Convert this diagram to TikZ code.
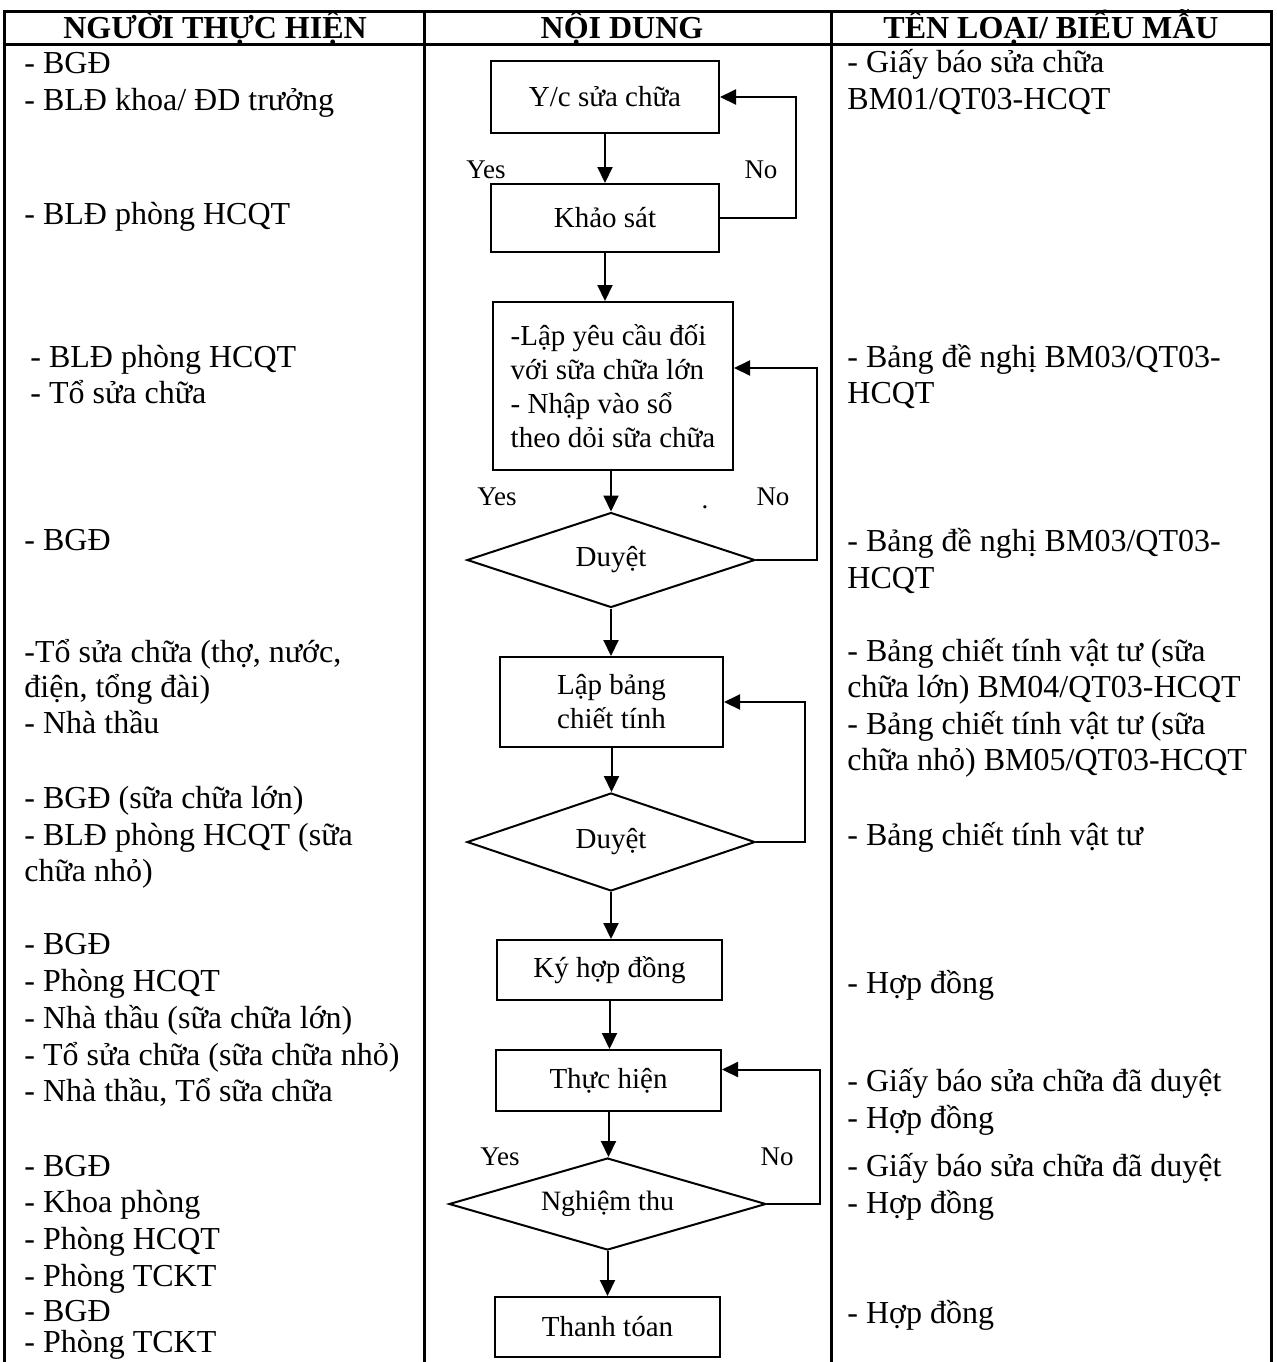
\documentclass[tikz,border=0pt]{standalone}
\usepackage{fontspec}
\setmainfont{Liberation Serif}
\usetikzlibrary{shapes.geometric,arrows.meta}

\begin{document}
\begin{tikzpicture}[x=0.5pt,y=-0.5pt,
	box/.style={draw,line width=1pt,inner sep=0pt,font=\fontsize{14.5}{17}\selectfont},
	dec/.style={draw,diamond,aspect=3,line width=1pt,inner sep=0pt,font=\fontsize{14.5}{17}\selectfont},
	arr/.style={line width=1pt,-{Triangle[length=8pt,width=7.5pt]}},
	lbl/.style={anchor=base west,inner sep=0pt,font=\fontsize{16}{18.3}\selectfont},
	hd/.style={anchor=base,inner sep=0pt,font=\fontsize{16}{18.3}\selectfont\bfseries},
	yn/.style={inner sep=0pt,font=\fontsize{13.5}{16}\selectfont}]
	\useasboundingbox (0,0) rectangle (1277,1362);
	
	\draw[line width=1.5pt] (4,1362)--(4,11)--(1271,11)--(1271,1362);
	\draw[line width=1.5pt] (4,44)--(1271,44);
	\draw[line width=1.5pt] (424,11)--(424,1362);
	\draw[line width=1.5pt] (831,11)--(831,1362);
	
	\node[hd] (h1) at (215,38) {NGƯỜI THỰC HIỆN};
	\node[hd] (h2) at (622,38) {NỘI DUNG};
	\node[hd] (h3) at (1051,38) {TÊN LOẠI/ BIỂU MẪU};
	
	% flow
	\node[box,minimum width=114pt,minimum height=36pt] (yc) at (605,97) {Y/c sửa chữa};
	\node[box,minimum width=114pt,minimum height=34pt] (ks) at (605,218) {Khảo sát};
	\node[box,minimum width=120pt,minimum height=84pt,align=left] (lap) at (613,386) {-Lập yêu cầu đối\\với sữa chữa lớn\\- Nhập vào sổ\\theo dỏi sữa chữa};
	\node[dec,minimum width=144pt,minimum height=47.5pt] (d1) at (611,560) {Duyệt};
	\node[box,minimum width=111.5pt,minimum height=45pt,align=center] (lb) at (611.5,702) {Lập bảng\\chiết tính};
	\node[dec,minimum width=144pt,minimum height=49pt] (d2) at (611,842) {Duyệt};
	\node[box,minimum width=112.5pt,minimum height=30pt] (ky) at (609.5,970) {Ký hợp đồng};
	\node[box,minimum width=112.5pt,minimum height=30.5pt] (th) at (608.5,1080.5) {Thực hiện};
	\node[dec,minimum width=158.5pt,minimum height=46pt,font=\fontsize{14}{16}\selectfont] (nt) at (607.5,1204) {Nghiệm thu};
	\node[box,minimum width=112.5pt,minimum height=30pt] (tt) at (607.5,1327) {Thanh tóan};
	
	\draw[arr] (yc.south)--(yc.south |- ks.north);
	\draw[arr] (ks.south)--(ks.south |- lap.north);
	\draw[arr] (d1.north |- lap.south)--(d1.north);
	\draw[arr] (d1.south)--(d1.south |- lb.north);
	\draw[arr] (lb.south)--(lb.south |- d2.north);
	\draw[arr] (d2.south)--(d2.south |- ky.north);
	\draw[arr] (ky.south)--(ky.south |- th.north);
	\draw[arr] (th.south)--(th.south |- nt.north);
	\draw[arr] (nt.south)--(nt.south |- tt.north);
	
	\draw[arr] (ks.east)--++(76,0) |- (yc.east);
	\draw[arr] (d1.east)--++(61,0) |- ([yshift=9pt]lap.east);
	\draw[arr] (d2.east)--++(49,0) |- (lb.east);
	\draw[arr] (nt.east)--++(53,0) |- ([yshift=5.5pt]th.east);
	
	\node[yn] (y1) at (486,170) {Yes};
	\node[yn] (n1) at (761,170) {No};
	\node[yn] (y2) at (497,497) {Yes};
	\node[yn] (n2) at (773,497) {No};
	\node[yn] (dot) at (705,507) {.};
	\node[yn] (y3) at (500,1157) {Yes};
	\node[yn] (n3) at (777,1157) {No};
	
	% nguoi thuc hien
	\node[lbl] (p1) at (24,73) {- BGĐ};
	\node[lbl] (p2) at (24,110) {- BLĐ khoa/ ĐD trưởng};
	\node[lbl] (p3) at (24,224) {- BLĐ phòng HCQT};
	\node[lbl] (p4) at (30,367) {- BLĐ phòng HCQT};
	\node[lbl] (p5) at (30,403) {- Tổ sửa chữa};
	\node[lbl] (p6) at (24,550) {- BGĐ};
	\node[lbl] (p7) at (24,662) {-Tổ sửa chữa (thợ, nước,};
	\node[lbl] (p8) at (24,697) {điện, tổng đài)};
	\node[lbl] (p9) at (24,733) {- Nhà thầu};
	\node[lbl] (p10) at (24,808) {- BGĐ (sữa chữa lớn)};
	\node[lbl] (p11) at (24,845) {- BLĐ phòng HCQT (sữa};
	\node[lbl] (p12) at (24,881) {chữa nhỏ)};
	\node[lbl] (p13) at (24,954) {- BGĐ};
	\node[lbl] (p14) at (24,991) {- Phòng HCQT};
	\node[lbl] (p15) at (24,1028) {- Nhà thầu (sữa chữa lớn)};
	\node[lbl] (p16) at (24,1065) {- Tổ sửa chữa (sữa chữa nhỏ)};
	\node[lbl] (p17) at (24,1101) {- Nhà thầu, Tổ sữa chữa};
	\node[lbl] (p18) at (24,1176) {- BGĐ};
	\node[lbl] (p19) at (24,1212) {- Khoa phòng};
	\node[lbl] (p20) at (24,1249) {- Phòng HCQT};
	\node[lbl] (p21) at (24,1286) {- Phòng TCKT};
	\node[lbl] (p22) at (24,1321) {- BGĐ};
	\node[lbl] (p23) at (24,1352) {- Phòng TCKT};
	
	% bieu mau
	\node[lbl] (f1) at (847,72) {- Giấy báo sửa chữa};
	\node[lbl] (f2) at (847,109) {BM01/QT03-HCQT};
	\node[lbl] (f3) at (847,367) {- Bảng đề nghị BM03/QT03-};
	\node[lbl] (f4) at (847,403) {HCQT};
	\node[lbl] (f5) at (847,551) {- Bảng đề nghị BM03/QT03-};
	\node[lbl] (f6) at (847,588) {HCQT};
	\node[lbl] (f7) at (847,661) {- Bảng chiết tính vật tư (sữa};
	\node[lbl] (f8) at (847,697) {chữa lớn) BM04/QT03-HCQT};
	\node[lbl] (f9) at (847,734) {- Bảng chiết tính vật tư (sữa};
	\node[lbl] (f10) at (847,770) {chữa nhỏ) BM05/QT03-HCQT};
	\node[lbl] (f11) at (847,845) {- Bảng chiết tính vật tư};
	\node[lbl] (f12) at (847,993) {- Hợp đồng};
	\node[lbl] (f13) at (847,1091) {- Giấy báo sửa chữa đã duyệt};
	\node[lbl] (f14) at (847,1128) {- Hợp đồng};
	\node[lbl] (f15) at (847,1176) {- Giấy báo sửa chữa đã duyệt};
	\node[lbl] (f16) at (847,1213) {- Hợp đồng};
	\node[lbl] (f17) at (847,1323) {- Hợp đồng};
\end{tikzpicture}
\end{document}
